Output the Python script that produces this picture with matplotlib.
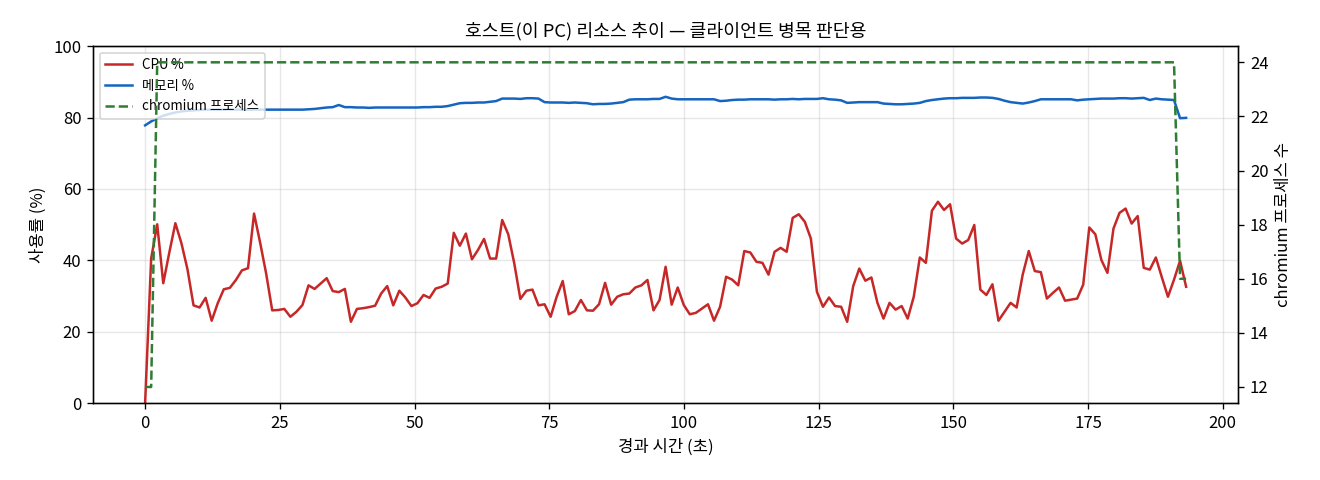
import matplotlib
matplotlib.use("Agg")
import matplotlib.pyplot as plt

plt.rcParams['font.family'] = ['Noto Sans CJK KR', 'DejaVu Sans']
plt.rcParams['axes.unicode_minus'] = False

# ----- data -----
sample_interval = 1.1233  # seconds between samples

cpu = [0, 40.5, 50.1, 33.6, 42.2, 50.4, 44.8, 37.5, 27.4, 26.8,
       29.5, 23.1, 28.0, 31.9, 32.3, 34.5, 37.2, 37.8, 53.1, 45.0,
       36.3, 26.0, 26.1, 26.4, 24.2, 25.6, 27.5, 33.0, 32.0, 33.5,
       35.0, 31.4, 31.1, 32.0, 22.8, 26.4, 26.6, 26.9, 27.3, 30.7,
       32.8, 27.4, 31.5, 29.6, 27.2, 28.0, 30.3, 29.5, 32.1, 32.6,
       33.5, 47.7, 44.1, 47.5, 40.3, 42.9, 46.0, 40.5, 40.5, 51.3,
       47.3, 39.1, 29.2, 31.5, 31.8, 27.4, 27.7, 24.2, 29.8, 34.2,
       24.9, 25.8, 28.9, 26.0, 25.9, 27.7, 33.7, 27.6, 29.8, 30.5,
       30.7, 32.4, 33.0, 34.5, 26.0, 28.9, 38.2, 27.6, 32.4, 27.5,
       24.9, 25.3, 26.5, 27.7, 23.1, 27.0, 35.4, 34.6, 33.0, 42.6,
       42.2, 39.6, 39.3, 36.0, 42.4, 43.5, 42.4, 51.9, 52.9, 50.8,
       46.1, 31.2, 27.0, 29.6, 27.2, 27.0, 22.8, 32.8, 37.7, 34.3,
       35.2, 28.1, 23.7, 28.1, 26.2, 27.2, 23.7, 29.8, 40.8, 39.3,
       53.9, 56.4, 54.1, 55.7, 46.1, 44.7, 45.7, 49.9, 31.8, 30.3,
       33.3, 23.1, 25.6, 28.1, 26.8, 36.0, 42.6, 37.0, 36.7, 29.3,
       30.9, 32.4, 28.7, 29.0, 29.3, 33.2, 49.2, 47.3, 40.1, 36.5,
       48.9, 53.3, 54.5, 50.3, 52.4, 37.9, 37.4, 40.8, 35.2, 29.8,
       34.6, 39.9, 32.6]

memory = [77.8, 78.9, 79.8, 80.5, 81.0, 81.4, 81.7, 81.9, 82.0, 82.1,
          82.2, 82.2, 82.2, 82.2, 82.3, 82.2, 82.2, 82.2, 82.2, 82.2,
          82.2, 82.2, 82.2, 82.2, 82.2, 82.2, 82.2, 82.3, 82.4, 82.6,
          82.8, 82.9, 83.5, 82.9, 82.9, 82.8, 82.8, 82.7, 82.8, 82.8,
          82.8, 82.8, 82.8, 82.8, 82.8, 82.8, 82.9, 82.9, 83.0, 83.0,
          83.2, 83.6, 84.0, 84.1, 84.1, 84.2, 84.2, 84.4, 84.6, 85.3,
          85.3, 85.3, 85.2, 85.4, 85.4, 85.3, 84.3, 84.2, 84.2, 84.2,
          84.1, 84.2, 84.1, 84.0, 83.7, 83.8, 83.8, 83.9, 84.1, 84.3,
          85.0, 85.1, 85.1, 85.1, 85.2, 85.2, 85.8, 85.3, 85.1, 85.1,
          85.1, 85.1, 85.1, 85.1, 85.1, 84.6, 84.7, 84.9, 85.0, 85.0,
          85.1, 85.1, 85.1, 85.1, 85.0, 85.1, 85.1, 85.2, 85.1, 85.2,
          85.2, 85.2, 85.4, 85.1, 85.0, 84.8, 84.1, 84.2, 84.3, 84.3,
          84.3, 84.3, 83.9, 83.8, 83.7, 83.7, 83.8, 83.9, 84.1, 84.6,
          84.9, 85.1, 85.3, 85.4, 85.4, 85.5, 85.5, 85.5, 85.6, 85.6,
          85.5, 85.2, 84.7, 84.3, 84.1, 83.9, 84.2, 84.6, 85.1, 85.1,
          85.1, 85.1, 85.1, 85.1, 84.8, 85.0, 85.1, 85.2, 85.3, 85.3,
          85.3, 85.4, 85.4, 85.3, 85.4, 85.5, 84.9, 85.3, 85.1, 85.0,
          84.9, 79.8, 79.9]

# chromium process count as (value, number of samples) runs
chromium_runs = [(12, 2), (24, 169), (16, 2)]
chromium = [v for v, n in chromium_runs for _ in range(n)]

elapsed = [i * sample_interval for i in range(len(cpu))]

# ----- plot -----
fig = plt.figure(figsize=(11, 4), dpi=120)
ax = fig.add_axes([0.0705, 0.160, 0.8675, 0.744])
ax2 = ax.twinx()

l1, = ax.plot(elapsed, cpu, color='#c62828', lw=1.5, label='CPU %')
l2, = ax.plot(elapsed, memory, color='#1565c0', lw=1.5, label='메모리 %')
l3, = ax2.plot(elapsed, chromium, color='#2e7d32', lw=1.5, ls='--', label='chromium 프로세스')

ax.set_ylim(0, 100)
ax.set_xlabel('경과 시간 (초)')
ax.set_ylabel('사용률 (%)')
ax2.set_ylabel('chromium 프로세스 수')
ax.set_title('호스트(이 PC) 리소스 추이 — 클라이언트 병목 판단용', fontsize=11)
ax.grid(True, alpha=0.3)

ax.legend(handles=[l1, l2, l3], loc='upper left', fontsize=8)

fig.savefig('out.png', dpi=120)
